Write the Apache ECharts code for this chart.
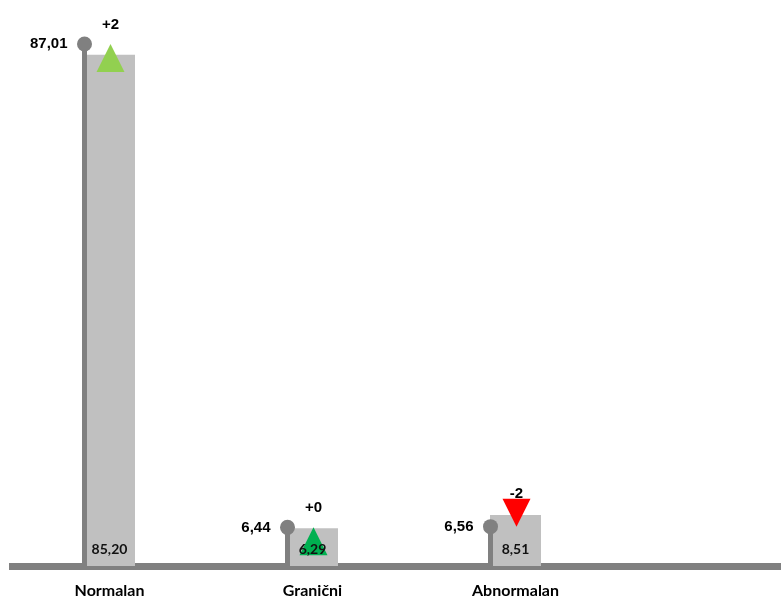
<!DOCTYPE html>
<html>
<head>
<meta charset="utf-8">
<script src="https://cdn.jsdelivr.net/npm/echarts@6/dist/echarts.min.js"></script>
<style>
html,body{margin:0;padding:0;background:#fff;}
#chart{width:781px;height:596px;}
</style>
</head>
<body>
<div id="chart"></div>
<script>
const categories = ['Normalan', 'Granični', 'Abnormalan'];
const barValues = [85.20, 6.29, 8.51];
const lollipopValues = [87.01, 6.44, 6.56];
const changeValues = [2, 0, -2];

const triangleColors = ['#92d050', '#00b050', '#ff0000'];

const fmt = v => v.toFixed(2).replace('.', ',');
const fmtChange = v => (v >= 0 ? '+' : '') + v;

const chart = echarts.init(document.getElementById('chart'));

const option = {
  animation: false,
  backgroundColor: '#ffffff',
  grid: [
    { left: 8, right: 164, top: 2, bottom: 30, outerBoundsMode: 'none', containLabel: false },
    { left: 9, right: 0, bottom: 30, height: 1, outerBoundsMode: 'none', containLabel: false }
  ],
  xAxis: [
    {
      type: 'category', data: categories, gridIndex: 0,
      axisLine: { show: false }, axisTick: { show: false },
      axisLabel: { margin: 17, color: '#000', fontFamily: 'Lato', fontWeight: 'bold', fontSize: 16 }
    },
    {
      type: 'value', gridIndex: 1, min: 0, max: 1,
      axisLine: { show: true, lineStyle: { color: '#808080', width: 7, cap: 'butt' } },
      axisTick: { show: false }, axisLabel: { show: false }, splitLine: { show: false }
    }
  ],
  yAxis: [
    { type: 'value', gridIndex: 0, min: 0, max: 94, show: false },
    { type: 'value', gridIndex: 1, show: false }
  ],
  series: [
    {
      type: 'bar', data: barValues, barWidth: 51, z: 2,
      itemStyle: { color: '#c0c0c0' }
    },
    {
      type: 'custom', z: 3,
      data: lollipopValues.map((v, i) => [i, v]),
      renderItem: function (params, api) {
        const i = api.value(0), v = api.value(1);
        const top = api.coord([i, v]);
        const base = api.coord([i, 0]);
        const x = top[0] - 25;
        return {
          type: 'group', children: [
            { type: 'line', shape: { x1: x, y1: base[1], x2: x, y2: top[1] }, style: { stroke: '#808080', lineWidth: 5 } },
            { type: 'circle', shape: { cx: x, cy: top[1], r: 7.5 }, style: { fill: '#808080' } },
            { type: 'text', style: { text: fmt(v), x: x - 17, y: top[1], align: 'right', verticalAlign: 'middle', font: 'bold 15px "Liberation Sans"', fill: '#000' } }
          ]
        };
      }
    },
    {
      type: 'scatter', z: 4,
      data: lollipopValues.map((v, i) => {
        const up = changeValues[i] >= 0;
        return {
          value: [i, v],
          symbol: 'triangle',
          symbolSize: [28, 28],
          symbolRotate: up ? 0 : 180,
          symbolOffset: [1, up ? 14 : -14],
          itemStyle: { color: triangleColors[i], opacity: 1 },
          label: {
            show: true, position: 'top', distance: up ? 12 : -3,
            formatter: fmtChange(changeValues[i]),
            color: '#000', fontFamily: 'Liberation Sans', fontWeight: 'bold', fontSize: 15
          }
        };
      })
    },
    {
      type: 'scatter', z: 6, symbolSize: 0,
      itemStyle: { opacity: 1 },
      data: barValues.map((v, i) => [i, 0]),
      label: {
        show: true, position: 'inside', offset: [0, -17],
        formatter: p => fmt(barValues[p.dataIndex]),
        color: '#111', fontFamily: 'Lato', fontWeight: 'bold', fontSize: 14
      }
    }
  ]
};
chart.setOption(option);
</script>
</body>
</html>
